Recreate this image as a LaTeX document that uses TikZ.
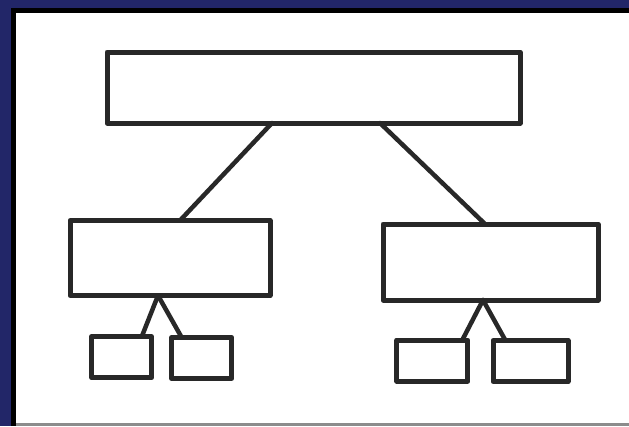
\documentclass[tikz,border=0pt]{standalone}
\usepackage{tikz}
\usetikzlibrary{calc}
\definecolor{slideblue}{RGB}{34,38,104}
\definecolor{marker}{RGB}{40,40,40}

\begin{document}
\begin{tikzpicture}[x=1pt, y=-1pt,
    box/.style={draw=marker, line width=5pt, line join=round, rectangle,
        inner sep=0pt, outer sep=0pt, fill=white},
    link/.style={draw=marker, line width=4.5pt, line cap=round}]
    \useasboundingbox (0,0) rectangle (629,426);
    % slide background and paper
    \fill[slideblue] (0,0) rectangle (629,426);
    \fill[black] (11,8) rectangle (629,426);
    \fill[white] (16,13) rectangle (629,423);
    \fill[black!45] (16,423) rectangle (629,426);

    \node[box, minimum width=413pt, minimum height=71pt] (top) at (313.5,87.5) {};
    \node[box, minimum width=200pt, minimum height=75pt] (mid-L) at (170,258) {};
    \node[box, minimum width=215pt, minimum height=76pt] (mid-R) at (490.5,262) {};
    \foreach[count=\i] \x/\y/\w in {121.7/357.3/60, 201.7/358/60, 432.3/360.5/71, 530.5/361/75} {
        \node[box, minimum width=\w pt, minimum height=41pt] (leaf-\i) at (\x,\y) {};
    }

    \draw[link] ([xshift=-41.5pt]top.south) -- ([xshift=10pt]mid-L.north);
    \draw[link] ([xshift=66.5pt]top.south) -- ([xshift=-5.5pt]mid-R.north);
    \draw[link] ([xshift=-12pt]mid-L.south) -- ([xshift=20pt]leaf-1.north);
    \draw[link] ([xshift=-12pt]mid-L.south) -- ([xshift=-20pt]leaf-2.north);
    \draw[link] ([xshift=-7.5pt]mid-R.south) -- ([xshift=30pt]leaf-3.north);
    \draw[link] ([xshift=-7.5pt]mid-R.south) -- ([xshift=-25pt]leaf-4.north);
\end{tikzpicture}
\end{document}
